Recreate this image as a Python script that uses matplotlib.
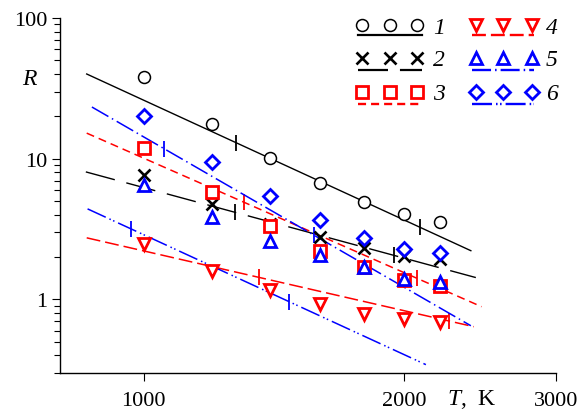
import numpy as np
import matplotlib
matplotlib.use('Agg')
import matplotlib.pyplot as plt
from matplotlib.ticker import FixedLocator, NullLocator, FixedFormatter, LogLocator, NullFormatter

plt.rcParams['font.family'] = ['Liberation Serif', 'DejaVu Serif']
plt.rcParams['mathtext.fontset'] = 'custom'
plt.rcParams['mathtext.it'] = 'Liberation Serif:italic'
plt.rcParams['mathtext.rm'] = 'Liberation Serif'
plt.rcParams['lines.scale_dashes'] = False

# measured points
T = [1000, 1200, 1400, 1600, 1800, 2000, 2200]
R1 = [38.1, 17.7, 10.1, 6.73, 4.94, 4.06, 3.56]
R2 = [7.67, 4.78, 3.45, 2.79, 2.33, 2.04, 1.94]
R3 = [11.9, 5.81, 3.34, 2.22, 1.71, 1.38, 1.25]
R4 = [2.47, 1.60, 1.17, 0.93, 0.79, 0.73, 0.69]
R5 = [6.52, 3.86, 2.61, 2.08, 1.71, 1.40, 1.32]
R6 = [20.1, 9.49, 5.44, 3.68, 2.74, 2.29, 2.14]

# calculated lines (end points)
line_T = [[859, 2391], [857, 2423], [859, 2460], [859, 2410], [871, 2391], [861, 2121]]
line_R = [[40.0, 2.22], [8.06, 1.43], [15.2, 0.888], [2.74, 0.64], [23.3, 0.65], [4.40, 0.344]]
# range marks on each line
mark_T = [[1278, 2088], [1274, 1946], [1306, 2069], [1359, 2254], [1055, 1573], [966, 1472]]

labels = ['1', '2', '3', '4', '5', '6']

styles = [
    dict(color='black', marker='o', ms=8.6, mew=1.1, dash=None, lw=1.0),
    dict(color='black', marker='x', ms=8.6, mew=1.9, dash=(21.6, 8.6), lw=1.0),
    dict(color='red', marker='s', ms=8.2, mew=2.0, dash=(5.8, 3.6), lw=1.1),
    dict(color='red', marker='v', ms=9.0, mew=2.0, dash=(10.0, 3.6), lw=1.1),
    dict(color='blue', marker='^', ms=9.0, mew=2.0, dash=(13.7, 2.9, 1.1, 2.9), lw=1.1),
    dict(color='blue', marker='D', ms=7.6, mew=2.0, dash=(14.4, 2.9, 1.1, 1.8, 1.1, 2.9), lw=1.1),
]
series = [R1, R2, R3, R4, R5, R6]

fig = plt.figure(figsize=(5.8, 4.1), dpi=100)
L, Rr, B, Tp = 60, 556, 374, 19
ax = fig.add_axes([L / 580, (410 - B) / 410, (Rr - L) / 580, (B - Tp) / 410])
ax.set_xscale('log')
ax.set_yscale('log')
ax.set_xlim(800, 3000)
ax.set_ylim(0.3, 100)

for i, st in enumerate(styles):
    lt, lr = line_T[i], line_R[i]
    ln, = ax.plot(lt, lr, color=st['color'], lw=st['lw'], zorder=2)
    if st['dash'] is not None:
        ln.set_dashes(st['dash'])
    mt = np.array(mark_T[i], dtype=float)
    mr = 10 ** np.interp(np.log10(mt), np.log10(lt), np.log10(lr))
    ax.plot(mt, mr, ls='none', marker='|', ms=11.5, mew=1.3, color=st['color'], zorder=2)

for i, st in enumerate(styles):
    ax.plot(T, series[i], ls='none', marker=st['marker'], ms=st['ms'], mew=st['mew'],
            mec=st['color'], mfc='white' if st['marker'] != 'x' else st['color'],
            color=st['color'], zorder=3)

for s in ['top', 'right']:
    ax.spines[s].set_visible(False)
for s in ['left', 'bottom']:
    ax.spines[s].set_linewidth(1.0)

ax.xaxis.set_major_locator(FixedLocator([1000, 2000, 3000]))
ax.xaxis.set_major_formatter(FixedFormatter(['1000', '2000', '3000']))
ax.xaxis.set_minor_locator(NullLocator())
ax.yaxis.set_major_locator(FixedLocator([1, 10, 100]))
ax.yaxis.set_major_formatter(FixedFormatter(['1', '10', '100']))
ax.yaxis.set_minor_locator(LogLocator(base=10, subs=np.arange(2, 10)))
ax.yaxis.set_minor_formatter(NullFormatter())
ax.tick_params(which='major', direction='out', length=6, width=0.8, labelsize=16, pad=3)
ax.tick_params(axis='x', which='major', pad=7)
ax.tick_params(which='minor', direction='out', length=4, width=0.8)

# axis labels
fig.text(30 / 580, 1 - 80 / 410, '$R$', fontsize=17, ha='center', va='center')
fig.text(447 / 580, 1 - 400 / 410, '$T$,  K', fontsize=17, ha='left', va='center')

# legend (markers above the line sample)
def to_fig(px, py):
    return px / 580, 1 - py / 410

cols = [(362, 390, 417, 358, 422, 433), (476, 503, 532, 472, 534, 546)]
rows = [(26, 36), (59, 71), (93, 105)]
for i, st in enumerate(styles):
    c = cols[i // 3]
    r = rows[i % 3]
    xs, ys = zip(*[to_fig(x, r[0]) for x in c[:3]])
    fig.add_artist(plt.Line2D(xs, ys, ls='none', marker=st['marker'], ms=st['ms'], mew=st['mew'],
                              mec=st['color'], mfc='white' if st['marker'] != 'x' else st['color']))
    lx, ly = zip(*[to_fig(x, r[1]) for x in c[3:5]])
    sample = plt.Line2D(lx, ly, color=st['color'], lw=st['lw'] + 0.6)
    if st['dash'] is not None:
        sample.set_dashes(st['dash'])
    fig.add_artist(sample)
    tx, ty = to_fig(c[5], r[0] + 2)
    fig.text(tx, ty, labels[i], fontsize=17, style='italic', ha='left', va='center')

fig.savefig('out.png', dpi=100)
